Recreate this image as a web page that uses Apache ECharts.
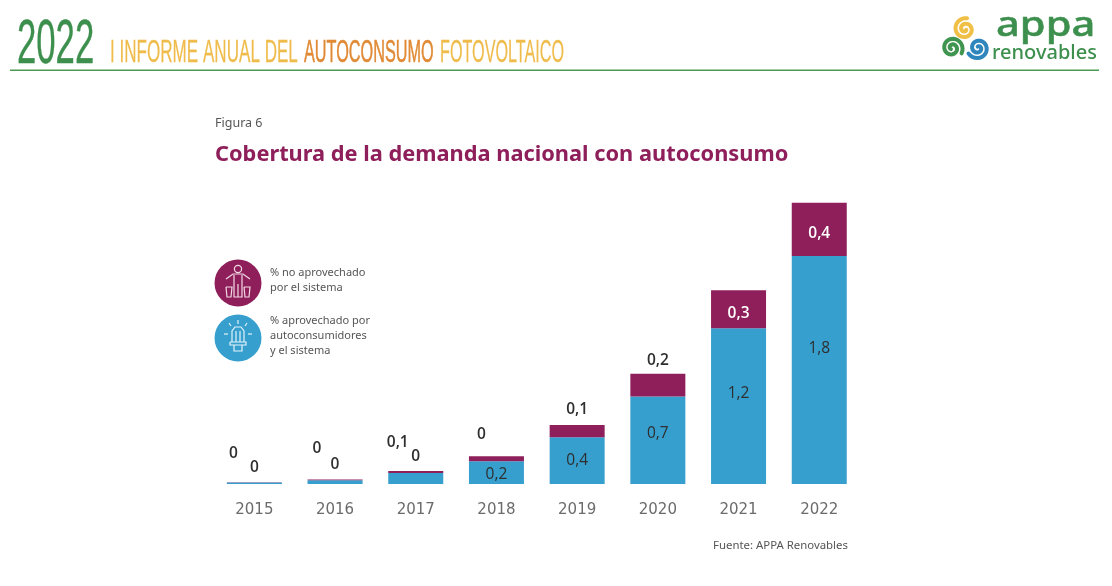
<!DOCTYPE html>
<html><head><meta charset="utf-8">
<style>html,body{margin:0;padding:0;background:#fff}#c{width:1112px;height:586px}</style>
<script src="https://cdn.jsdelivr.net/npm/echarts@6/dist/echarts.min.js"></script></head>
<body><div id="c"></div>
<script>
const years = ['2015','2016','2017','2018','2019','2020','2021','2022'];
const aprovechado = [0.012,0.03,0.087,0.18,0.37,0.69,1.23,1.8];
const noAprovechado = [0.002,0.006,0.016,0.04,0.095,0.18,0.30,0.42];
const labelsAprovechado = ['0','0','0','0,2','0,4','0,7','1,2','1,8'];
const labelsNoAprovechado = ['0','0','0,1','0','0,1','0,2','0,3','0,4'];
const nameNo = ['% no aprovechado','por el sistema'];
const nameSi = ['% aprovechado por','autoconsumidores','y el sistema'];

const BLUE='#369fce', PURPLE='#8e1f5b', INK='#2e2e2e', F='"Open Sans","Noto Sans",sans-serif', NARROW='"Liberation Sans Narrow","Liberation Sans",sans-serif', NOTO='"Noto Sans",sans-serif';
const chart = echarts.init(document.getElementById('c'), null, {renderer:'canvas'});

const blueOffsets = [[0,-2],[0,-3],[0,-3],[0,2],[0,0],[0,-7],[0,-13],[0,-21]];
const purpleOffsets = [[-21,-16],[-18,-18],[-18,-15],[-15,-9],[0,-3],[0,0],[0,4],[0,4]];
function blueLabel(i){
  const small = i<3;
  return {show:true, formatter:labelsAprovechado[i], position: small?'top':'inside', offset: blueOffsets[i],
    color: INK, fontFamily:F, fontSize:15.5, fontWeight: small?600:500};
}
function purpleLabel(i){
  const out = i<6;
  return {show:true, formatter:labelsNoAprovechado[i], position: out?'top':'inside',
    offset: purpleOffsets[i], color: out?INK:'#fff', fontFamily:F, fontSize:15.5, fontWeight:600};
}
function t(x,y,text,style){return {type:'text',left:x,top:y,silent:true,style:Object.assign({text,fontFamily:F,fill:'#555',fontSize:11},style)};}
function hdr(x,y,sx,sy,text,size,fill,sw){return {type:'text',silent:true,x,y,scaleX:sx,scaleY:sy,style:{text,fontFamily:NARROW,fontSize:size,fill,stroke:fill,lineWidth:sw}};}
function ln(pts,c,w){return {type:'polyline',silent:true,shape:{points:pts},style:{stroke:c,lineWidth:w||1.2,fill:null}};}
function spiral(cx,cy,c,rot){
  const pts=[];
  for(let k=0;k<=44;k++){const a=rot+k/44*Math.PI*3.4, r=1.5+k/44*9.5; pts.push([cx+r*Math.cos(a),cy+r*Math.sin(a)]);}
  return {type:'polyline',silent:true,shape:{points:pts,smooth:0},style:{stroke:c,lineWidth:4,fill:null,lineCap:'round'}};
}

const graphic = [
  hdr(17,14,0.655,1.2,'2022',53,'#3d8f4d',0.3),
  hdr(110,37,0.683,1.28,'I INFORME ANUAL DEL',25,'#efbc4c',0.2),
  hdr(304,37,0.65,1.28,'AUTOCONSUMO',25,'#e08a35',0.4),
  hdr(440,37,0.647,1.28,'FOTOVOLTAICO',25,'#efbc4c',0.2),
  {type:'rect',silent:true,shape:{x:10,y:69.5,width:1089,height:1.5},style:{fill:'#4f9a52'}},
  // logo
  spiral(965,29,'#f0bf45',0.5),
  spiral(952,48,'#3f9550',2.4),
  spiral(978,48,'#2f86bd',4.5),
  {type:'text',silent:true,x:996,y:9,scaleX:1.19,scaleY:1,style:{text:'appa',fontFamily:NOTO,fontSize:35,fontWeight:500,fill:'#3d8f4d',stroke:'#3d8f4d',lineWidth:0.5}},
  t(992,43,'renovables',{fontFamily:NOTO,fontSize:20,fontWeight:500,fill:'#3d8f4d'}),
  // titles
  t(215,117,'Figura 6',{fontSize:12.5,fill:'#555',fontFamily:NOTO}),
  t(215,144,'Cobertura de la demanda nacional con autoconsumo',{fontSize:21.8,fontWeight:700,fill:PURPLE,fontFamily:NOTO}),
  t(713,540,'Fuente: APPA Renovables',{fontSize:11.4,fill:'#555',fontFamily:NOTO}),
  // legend icon 1
  {type:'circle',silent:true,shape:{cx:238,cy:283,r:23.5},style:{fill:PURPLE}},
  {type:'circle',silent:true,shape:{cx:238,cy:269,r:3.6},style:{fill:'none',stroke:'#f3dbe6',lineWidth:1.2}},
  ln([[226,279],[233,274],[243,274],[250,279]],'#f3dbe6'),
  ln([[234,275],[234,297],[238,297],[238,284],[238,297],[242,297],[242,275]],'#f3dbe6'),
  ln([[226,287],[232,287],[231,297],[227,297],[226,287]],'#f3dbe6'),
  ln([[244,287],[250,287],[249,297],[245,297],[244,287]],'#f3dbe6'),
  // legend icon 2
  {type:'circle',silent:true,shape:{cx:238,cy:338,r:23.5},style:{fill:BLUE}},
  ln([[232,342],[232,331],[235,327],[241,327],[244,331],[244,342]],'#e3f3fa'),
  ln([[236,342],[236,331]],'#e3f3fa'), ln([[240,342],[240,331]],'#e3f3fa'),
  ln([[230,342],[246,342],[246,345],[230,345],[230,342]],'#e3f3fa'),
  ln([[234,345],[234,351],[242,351],[242,345]],'#e3f3fa'),
  ln([[238,320],[238,324]],'#e3f3fa'), ln([[229,323],[231,326]],'#e3f3fa'), ln([[247,323],[245,326]],'#e3f3fa'),
  ln([[224,334],[228,334]],'#e3f3fa'), ln([[248,334],[252,334]],'#e3f3fa'),
  ...nameNo.map((s,i)=>t(270,267+15*i,s,{fontSize:11,fontFamily:NOTO})),
  ...nameSi.map((s,i)=>t(270,315+15*i,s,{fontSize:11,fontFamily:NOTO}))
];

chart.setOption({
  animation:false, backgroundColor:'#fff',
  graphic,
  grid:{left:214,top:180,width:645.6,height:304},
  xAxis:{type:'category',data:years,axisLine:{show:false},axisTick:{show:false},
    axisLabel:{color:'#6b6b6b',fontFamily:'"DejaVu Sans",sans-serif',fontSize:15,margin:19}},
  yAxis:{type:'value',min:0,max:2.4,show:false,splitLine:{show:false}},
  series:[
    {name:nameSi.join(' '),type:'bar',stack:'a',barWidth:55,itemStyle:{color:BLUE},
     data:aprovechado.map((v,i)=>({value:v,label:blueLabel(i)}))},
    {name:nameNo.join(' '),type:'bar',stack:'a',barWidth:55,itemStyle:{color:PURPLE},
     data:noAprovechado.map((v,i)=>({value:v,label:purpleLabel(i)}))}
  ]
});
</script></body></html>
